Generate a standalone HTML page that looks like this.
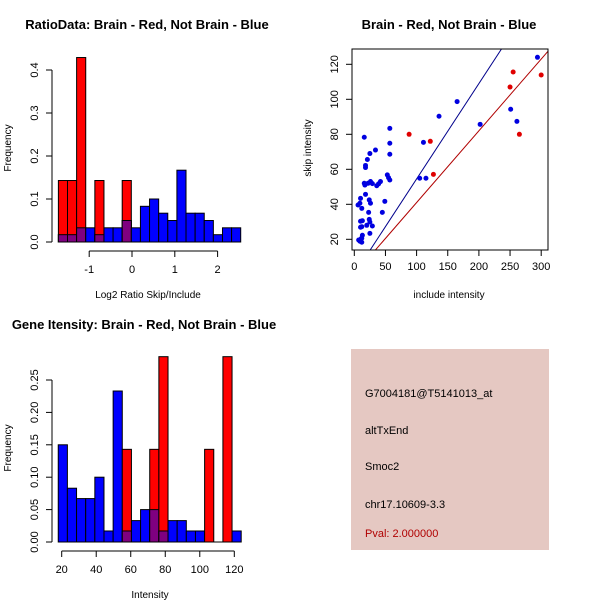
<!DOCTYPE html>
<html><head><meta charset="utf-8"><style>
body{margin:0;background:#fff}
svg{display:block;font-family:"Liberation Sans",sans-serif}
</style></head><body>
<svg id="c" width="600" height="600"></svg>
<script>
// --- Ratio histogram data
const ratioStart = -1.72, ratioWidth = 0.213;
const ratioBlue = [0.017,0.017,0.033,0.033,0.017,0.033,0.033,0.05,0.033,0.083,0.1,0.067,0.05,0.167,0.067,0.067,0.05,0.017,0.033,0.033];
const ratioRed  = [0.143,0.143,0.429,0,0.143,0,0,0.143,0,0,0,0,0,0,0,0,0,0,0,0];
const ratioXTicks = [-1,0,1,2];
const ratioYTicks = [0,0.1,0.2,0.3,0.4];
const ratioYLabels = ["0.0","0.1","0.2","0.3","0.4"];
// --- Intensity histogram data
const intStart = 18, intWidth = 5.3;
const intBlue = [0.15,0.083,0.067,0.067,0.1,0.017,0.233,0.017,0.033,0.05,0.05,0.017,0.033,0.033,0.017,0.017,0,0,0,0.017];
const intRed  = [0,0,0,0,0,0,0,0.143,0,0,0.143,0.286,0,0,0,0,0.143,0,0.286,0];
const intXTicks = [20,40,60,80,100,120];
const intYTicks = [0,0.05,0.10,0.15,0.20,0.25];
const intYLabels = ["0.00","0.05","0.10","0.15","0.20","0.25"];
// --- Scatter data
const blueInclude = [16,25,34,21,18,18,16,17,22,26,29,36,39,42,18,10,6,9,12,24,26,23,49,45,10,13,24,25,20,29,10,12,25,13,12,7,9,12,11,53,55,57,57,57,57,111,105,115,136,165,202,251,261,294];
const blueSkip    = [78.3,69,71,65.6,62.2,61,52,51,52,53,51.8,50.6,51.7,53,45.7,43.4,39.6,40.6,37.7,42.5,40.6,35.4,41.7,35.4,30.3,30.6,31.4,29.9,28,27.6,26.9,27.2,23.4,22.3,20.6,19.6,18.9,18.3,20.4,56.8,55.2,53.9,83.4,74.9,68.6,75.4,54.9,54.9,90.3,98.7,85.7,94.3,87.4,124];
const redInclude = [88,122,127,250,255,300,265];
const redSkip    = [80,76,57.1,107,115.6,113.9,80];
const blueSlope = 0.545, redSlope = 0.41;
const scXTicks = [0,50,100,150,200,250,300];
const scYTicks = [20,40,60,80,100,120];

const svg = document.getElementById('c');
const NS = 'http://www.w3.org/2000/svg';
function mk(tag, at, parent){const e=document.createElementNS(NS,tag);for(const k in at)e.setAttribute(k,at[k]);(parent||svg).appendChild(e);return e;}
function txt(s,x,y,at,parent){const e=mk('text',Object.assign({x:x,y:y,'font-size':11,fill:'#000'},at||{}),parent);e.textContent=s;return e;}

function hist(g, start, width, blue, red, xs, ys, xTicks, yTicks, yLabels, xAxisY){
  for(let i=0;i<blue.length;i++){
    const x0=xs(start+i*width), x1=xs(start+(i+1)*width);
    if(blue[i]>0){
      const r=mk('rect',{x:x0,y:ys(blue[i]),width:x1-x0,height:ys(0)-ys(blue[i]),fill:'#0000ff',stroke:'#000','stroke-width':1},g);
      
      
    }
    if(red[i]>0){
      const r=mk('rect',{x:x0,y:ys(red[i]),width:x1-x0,height:ys(0)-ys(red[i]),fill:'#ff0000',stroke:'#000','stroke-width':1},g);
      
      
      if(blue[i]>0){
        const p=mk('rect',{x:x0,y:ys(blue[i]),width:x1-x0,height:ys(0)-ys(blue[i]),fill:'#7f0080',stroke:'#000','stroke-width':1},g);
        
        
      }
    }
  }
  mk('line',{x1:xs(start),x2:xs(start+blue.length*width),y1:ys(0),y2:ys(0),stroke:'#000'},g);
  mk('line',{x1:xs(xTicks[0]),x2:xs(xTicks[xTicks.length-1]),y1:xAxisY,y2:xAxisY,stroke:'#000'},g);
  xTicks.forEach(t=>{mk('line',{x1:xs(t),x2:xs(t),y1:xAxisY,y2:xAxisY+6,stroke:'#000'},g);
    const e=txt(String(t),xs(t),xAxisY+22,{'text-anchor':'middle'},g);
    
    });
  const ax=52;
  mk('line',{x1:ax,x2:ax,y1:ys(yTicks[0]),y2:ys(yTicks[yTicks.length-1]),stroke:'#000'},g);
  yTicks.forEach((t,i)=>{mk('line',{x1:ax,x2:ax-6,y1:ys(t),y2:ys(t),stroke:'#000'},g);
    const e=txt(yLabels[i],0,0,{'text-anchor':'middle',transform:`translate(${ax-14},${ys(t)}) rotate(-90)`},g);
    
    });
}

// Top-left
const g1=mk('g',{});


hist(g1,ratioStart,ratioWidth,ratioBlue,ratioRed,v=>132+v*42.8,v=>242-430*v,ratioXTicks,ratioYTicks,ratioYLabels,251);
let t=txt('RatioData: Brain - Red, Not Brain - Blue',147,29,{'text-anchor':'middle','font-weight':'bold','font-size':13},g1);

t=txt('Log2 Ratio Skip/Include',148,298,{'text-anchor':'middle','font-size':10},g1);

t=txt('Frequency',0,0,{'text-anchor':'middle','font-size':10,transform:'translate(11,148) rotate(-90)'},g1);


// Bottom-left
const g2=mk('g',{});


hist(g2,intStart,intWidth,intBlue,intRed,v=>61.7+(v-20)*1.726,v=>542-648*v,intXTicks,intYTicks,intYLabels,551);
t=txt('Gene Itensity: Brain - Red, Not Brain - Blue',144,329,{'text-anchor':'middle','font-weight':'bold','font-size':13},g2);

t=txt('Intensity',150,598,{'text-anchor':'middle','font-size':10},g2);

t=txt('Frequency',0,0,{'text-anchor':'middle','font-size':10,transform:'translate(11,448) rotate(-90)'},g2);


// Scatter
const g3=mk('g',{});


const sx=v=>354.3+v*0.623, sy=v=>239.3-(v-20)*1.75;
const defs=mk('defs',{},g3);const cp=mk('clipPath',{id:'clip'},defs);mk('rect',{x:352,y:49,width:196,height:201},cp);
const lines=mk('g',{'clip-path':'url(#clip)'},g3);
let l=mk('line',{x1:sx(0),y1:sy(0),x2:sx(320),y2:sy(blueSlope*320),stroke:'#00008b'},lines);

l=mk('line',{x1:sx(0),y1:sy(0),x2:sx(320),y2:sy(redSlope*320),stroke:'#b00000'},lines);

blueInclude.forEach((v,i)=>{const c=mk('circle',{cx:sx(v),cy:sy(blueSkip[i]),r:2.5,fill:'#0000e0'},g3);
  
  });
redInclude.forEach((v,i)=>{const c=mk('circle',{cx:sx(v),cy:sy(redSkip[i]),r:2.5,fill:'#e00000'},g3);
  
  });
mk('rect',{x:352,y:49,width:196,height:201,fill:'none',stroke:'#000'},g3);
scXTicks.forEach(v=>{mk('line',{x1:sx(v),x2:sx(v),y1:250,y2:256,stroke:'#000'},g3);
  const e=txt(String(v),sx(v),270,{'text-anchor':'middle'},g3);
  
  });
scYTicks.forEach(v=>{mk('line',{x1:352,x2:346,y1:sy(v),y2:sy(v),stroke:'#000'},g3);
  const e=txt(String(v),0,0,{'text-anchor':'middle',transform:`translate(338,${sy(v)}) rotate(-90)`},g3);
  
  });
t=txt('Brain - Red, Not Brain - Blue',449,29,{'text-anchor':'middle','font-weight':'bold','font-size':13},g3);

t=txt('include intensity',449,298,{'text-anchor':'middle','font-size':10},g3);

t=txt('skip intensity',0,0,{'text-anchor':'middle','font-size':10,transform:'translate(311,148) rotate(-90)'},g3);


// Info box
const g4=mk('g',{});


mk('rect',{x:351,y:349,width:198,height:201,fill:'#e5c8c2'},g4);
[['G7004181@T5141013_at',397,'#000'],['altTxEnd',434,'#000'],['Smoc2',470,'#000'],['chr17.10609-3.3',508,'#000'],['Pval: 2.000000',537,'#b00000']].forEach(([s,y,c])=>{
  const e=txt(s,365,y,{'font-size':11,fill:c},g4);
  
  
});
</script>
</body></html>
